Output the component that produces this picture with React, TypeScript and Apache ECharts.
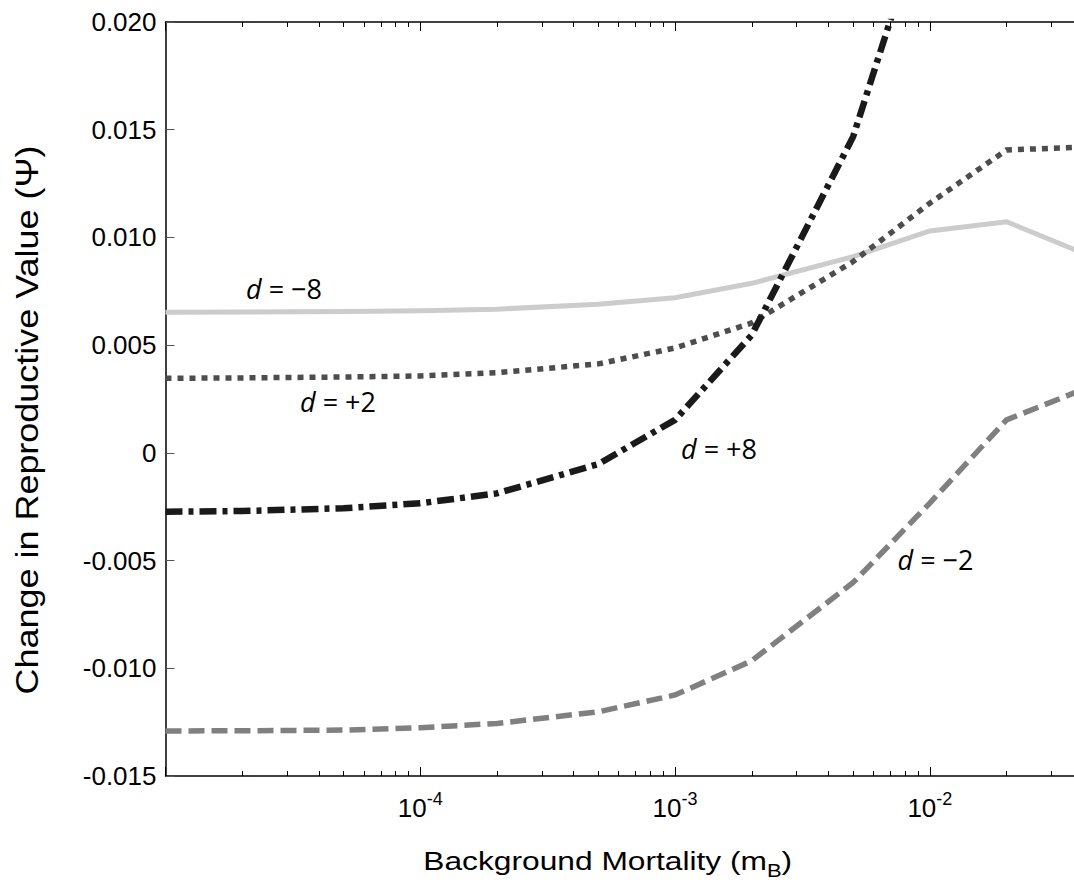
import React, { useEffect, useRef } from 'react';
import * as echarts from 'echarts';

// Background mortality values (x, log scale)
const mortality = [1e-5, 2e-5, 5e-5, 1e-4, 2e-4, 5e-4, 1e-3, 2e-3, 5e-3, 1e-2, 2e-2, 5e-2];

// Change in reproductive value for each dispersal distance d
const dMinus8 = [0.00653, 0.00654, 0.00656, 0.0066, 0.00667, 0.0069, 0.0072, 0.00787, 0.00911, 0.0103, 0.01073, 0.0088];
const dPlus2 = [0.00346, 0.00348, 0.00352, 0.00357, 0.00372, 0.00413, 0.00487, 0.00603, 0.00888, 0.01159, 0.01406, 0.01423];
const dPlus8 = [-0.00273, -0.0027, -0.00257, -0.00234, -0.00188, -0.00052, 0.00153, 0.00547, 0.01468, 0.0258];
const dMinus2 = [-0.01291, -0.0129, -0.01287, -0.01276, -0.01256, -0.01202, -0.01124, -0.00965, -0.00602, -0.00233, 0.00153, 0.00341];

// Axes
const xMin = 1e-5;
const xMax = 0.0368;
const xMajorTicks = [1e-5, 1e-4, 1e-3, 1e-2];
const xLabelTicks = [1e-4, 1e-3, 1e-2];
const xMinorMultipliers = [2, 3, 4, 5, 6, 7, 8, 9];
const yMin = -0.015;
const yMax = 0.02;
const yStep = 0.005;
const yTickLabels = ['-0.015', '-0.010', '-0.005', '0', '0.005', '0.010', '0.015', '0.020'];

const seriesLabels = ['d = −8', 'd = +2', 'd = +8', 'd = −2'];

const pairs = (ys: number[]) => ys.map((y, i) => [mortality[i], y]);

const xMinorTicks: number[] = [];
xMajorTicks.forEach((dec) => xMinorMultipliers.forEach((m) => xMinorTicks.push(dec * m)));

const FONT = '"Liberation Sans", Arial, sans-serif';
const LABEL_FONT = '"Open Sans", "Noto Sans", sans-serif';

function dLabel(text: string, x: number, y: number) {
  const rest = text.slice(1);
  return {
    type: 'text',
    x,
    y,
    silent: true,
    style: {
      text: '{i|d}' + rest,
      fill: '#000',
      font: `27px ${LABEL_FONT}`,
      align: 'center',
      verticalAlign: 'middle',
      rich: {
        i: { fontStyle: 'italic', fontSize: 27, fontFamily: LABEL_FONT, fill: '#000' },
      },
    },
  };
}

export default function App() {
  const ref = useRef<HTMLDivElement>(null);
  useEffect(() => {
    if (!ref.current) return;
    const chart = echarts.init(ref.current, null, { renderer: 'svg' });

    const baseX = {
      type: 'log',
      min: xMin,
      max: xMax,
      logBase: 10,
      splitLine: { show: false },
      minorTick: { show: false },
      minorSplitLine: { show: false },
    };

    const option: any = {
      animation: false,
      backgroundColor: '#fff',
      grid: { left: 165.5, top: 22, right: 0, bottom: 107, containLabel: false, outerBoundsMode: 'none' },
      xAxis: [
        {
          ...baseX,
          position: 'bottom',
          axisLine: { show: true, onZero: false, lineStyle: { color: '#000', width: 1.5 } },
          axisTick: { show: true, inside: true, length: 9, customValues: xMajorTicks, lineStyle: { color: '#000', width: 1 } },
          axisLabel: {
            show: true,
            margin: 14,
            fontSize: 26,
            fontFamily: FONT,
            color: '#000',
            customValues: xLabelTicks,
            formatter: (v: number) => `{b|10}{s|${Math.round(Math.log10(v))}}`,
            rich: {
              b: { fontSize: 26, fontFamily: FONT, color: '#000', verticalAlign: 'bottom' },
              s: { fontSize: 18, fontFamily: FONT, color: '#000', verticalAlign: 'bottom', padding: [0, 0, 13, 0] },
            },
          },
        },
        {
          ...baseX,
          position: 'bottom',
          axisLine: { show: false, onZero: false },
          axisTick: { show: true, inside: true, length: 5, customValues: xMinorTicks, lineStyle: { color: '#000', width: 1 } },
          axisLabel: { show: false },
        },
        {
          ...baseX,
          position: 'top',
          axisLine: { show: true, onZero: false, lineStyle: { color: '#000', width: 1.5 } },
          axisTick: { show: true, inside: true, length: 9, customValues: xMajorTicks, lineStyle: { color: '#000', width: 1 } },
          axisLabel: { show: false },
        },
        {
          ...baseX,
          position: 'top',
          axisLine: { show: false, onZero: false },
          axisTick: { show: true, inside: true, length: 5, customValues: xMinorTicks, lineStyle: { color: '#000', width: 1 } },
          axisLabel: { show: false },
        },
      ],
      yAxis: [
        {
          type: 'value',
          min: yMin,
          max: yMax,
          interval: yStep,
          position: 'left',
          splitLine: { show: false },
          axisLine: { show: true, onZero: false, lineStyle: { color: '#000', width: 1.5 } },
          axisTick: { show: true, inside: true, length: 9, lineStyle: { color: '#555', width: 1 } },
          axisLabel: {
            margin: 9,
            fontSize: 26,
            fontFamily: FONT,
            color: '#000',
            formatter: (v: number) => yTickLabels[Math.round((v - yMin) / yStep)] ?? '',
          },
        },
      ],
      series: [
        {
          name: seriesLabels[0],
          type: 'line',
          data: pairs(dMinus8),
          showSymbol: false,
          symbol: 'none',
          clip: true,
          lineStyle: { color: '#cccccc', width: 5, type: 'solid', join: 'miter' },
        },
        {
          name: seriesLabels[1],
          type: 'line',
          data: pairs(dPlus2),
          showSymbol: false,
          symbol: 'none',
          clip: true,
          lineStyle: { color: '#4d4d4d', width: 5.5, type: [6, 6], cap: 'butt', join: 'miter' },
        },
        {
          name: seriesLabels[3],
          type: 'line',
          data: pairs(dMinus2),
          showSymbol: false,
          symbol: 'none',
          clip: true,
          lineStyle: { color: '#808080', width: 5.5, type: [16, 7], cap: 'butt', join: 'miter' },
        },
        {
          name: seriesLabels[2],
          type: 'line',
          data: pairs(dPlus8),
          showSymbol: false,
          symbol: 'none',
          clip: true,
          lineStyle: { color: '#1a1a1a', width: 6.5, type: [17, 6, 5, 6], cap: 'butt', join: 'miter' },
        },
      ],
      graphic: [
        dLabel(seriesLabels[0], 284, 288),
        dLabel(seriesLabels[1], 338, 401),
        dLabel(seriesLabels[2], 719, 448),
        dLabel(seriesLabels[3], 935.5, 559),
        {
          type: 'text',
          x: 27.5,
          y: 420,
          rotation: Math.PI / 2,
          scaleX: 1.16,
          silent: true,
          style: {
            text: 'Change in Reproductive Value (Ψ)',
            font: `31px ${FONT}`,
            fill: '#000',
            align: 'center',
            verticalAlign: 'middle',
          },
        },
        {
          type: 'group',
          x: 423.3,
          y: 0,
          scaleX: 1.22,
          silent: true,
          children: [
            {
              type: 'text',
              x: 0,
              y: 861.5,
              style: { text: 'Background Mortality (m', font: `26px ${FONT}`, fill: '#000', align: 'left', verticalAlign: 'middle' },
            },
            {
              type: 'text',
              x: 281.7,
              y: 870.3,
              style: { text: 'B', font: `18px ${FONT}`, fill: '#000', align: 'left', verticalAlign: 'middle' },
            },
            {
              type: 'text',
              x: 293.7,
              y: 861.5,
              style: { text: ')', font: `26px ${FONT}`, fill: '#000', align: 'left', verticalAlign: 'middle' },
            },
          ],
        },
      ],
    };

    chart.setOption(option);
    return () => chart.dispose();
  }, []);

  return (
    <div
      ref={ref}
      style={{ position: 'absolute', left: 0, top: 0, width: 1074, height: 883, background: '#fff' }}
    />
  );
}
